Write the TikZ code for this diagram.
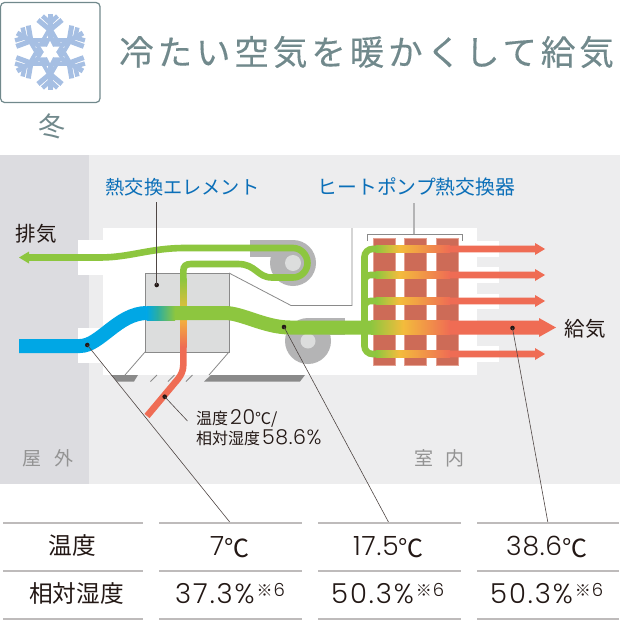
\documentclass[tikz,border=0pt]{standalone}
\usepackage{fontspec}
\setmainfont{Noto Sans CJK JP}
\newfontfamily\titlefont[LetterSpace=11.4, FakeBold=0.25]{Noto Sans CJK JP}
\newfontfamily\numfont[LetterSpace=3]{Poppins Light}
\newfontfamily\widenumfont[LetterSpace=7]{Poppins Light}
\usetikzlibrary{arrows.meta, positioning, calc}
\definecolor{titlegray}{RGB}{113, 137, 140}
\definecolor{snowblue}{RGB}{166, 191, 227}
\definecolor{wallgray}{RGB}{220, 220, 224}
\definecolor{roomgray}{RGB}{237, 237, 238}
\definecolor{boxgray}{RGB}{220, 221, 221}
\definecolor{edgegray}{RGB}{138, 138, 138}
\definecolor{fangray}{RGB}{180, 180, 181}
\definecolor{airgreen}{RGB}{141, 198, 63}
\definecolor{airblue}{RGB}{0, 167, 229}
\definecolor{airteal}{RGB}{44, 174, 160}
\definecolor{airyellow}{RGB}{243, 188, 60}
\definecolor{airred}{RGB}{239, 108, 84}
\definecolor{coilred}{RGB}{205, 107, 87}
\definecolor{coiledge}{RGB}{228, 160, 145}
\definecolor{labelblue}{RGB}{11, 111, 184}
\definecolor{inkdark}{RGB}{35, 24, 21}
\definecolor{rulegray}{RGB}{190, 187, 187}
\newcommand{\jpsize}[1]{\fontsize{#1}{#1}\selectfont}
\newcommand{\bignum}[1]{{\numfont\jpsize{26.5}#1}}
\newcommand{\pctnum}[1]{{\widenumfont\jpsize{27.5}#1}}
\newcommand{\smallnum}[1]{\hspace{2pt}{\numfont\jpsize{20.5}#1}}
\newcommand{\tempmark}{\raisebox{-1.5pt}{\jpsize{25}℃}}
\newcommand{\notemark}{\hspace{2pt}\raisebox{7pt}{\jpsize{16}※\hspace{1pt}{\numfont\jpsize{18}6}}}
\tikzset{
  leader/.style={draw=inkdark!80, line width=0.6pt},
  dotmark/.style={circle, fill=inkdark, inner sep=0pt, minimum size=4.6pt},
  rowrule/.style={draw=rulegray, line width=2pt},
  celltext/.style={text=inkdark, font=\jpsize{22}, inner sep=0pt, anchor=west},
  headtext/.style={text=inkdark, font=\jpsize{23.7}, inner sep=0pt},
  partlabel/.style={text=labelblue, inner sep=0pt, anchor=west},
  airlabel/.style={text=inkdark, font=\jpsize{20.5}, inner sep=0pt},
  placelabel/.style={text=gray!85, font=\jpsize{19}, inner sep=0pt},
  snowline/.style={draw=snowblue, line width=5pt},
  floorbar/.style={fill=edgegray},
  fanbody/.style={fill=fangray},
  faneye/.style={fill=boxgray},
  flowbig/.style={line width=14pt},
  flowthin/.style={line width=6.6pt}
}
\begin{document}
\begin{tikzpicture}[x=1pt, y=-1pt]
  \useasboundingbox (0, 0) rectangle (620, 621);

  % 背景
  \fill[roomgray] (89, 155) rectangle (620, 484);
  \fill[wallgray] (0, 155) rectangle (89, 484);
  \fill[white] (103, 228) rectangle (477, 375);
  \fill[white] (78, 240) rectangle (104, 275);
  \fill[white] (78, 328) rectangle (104, 363);
  \foreach \ya/\yb in {241/257, 267/283, 294/309, 346/362} {
    \fill[white] (476, \ya) rectangle (499, \yb);
  }

  % アイコン
  \draw[titlegray, line width=1.2pt, rounded corners=4pt] (0.6, 2.5) rectangle (100, 102.5);
  \begin{scope}[shift={(50, 52)}]
    \foreach \a in {30, 90, 150, 210, 270, 330} {
      \begin{scope}[rotate=\a]
        \draw[snowline] (13, 0) -- (38, 0);
        \draw[snowline] (22, 0) -- (32, 12);
        \draw[snowline] (22, 0) -- (32, -12);
        \draw[snowline, line width=4.4pt] (29, 0) -- (36, 7.5);
        \draw[snowline, line width=4.4pt] (29, 0) -- (36, -7.5);
      \end{scope}
    }
    \draw[snowline, line width=3.8pt] (90:24) -- (210:24) -- (330:24) -- cycle;
    \draw[snowline, line width=3.8pt] (30:24) -- (150:24) -- (270:24) -- cycle;
    \fill[snowblue] (0:15) -- (60:15) -- (120:15) -- (180:15) -- (240:15) -- (300:15) -- cycle;
    \fill[white] (90:11) -- (60:6) -- (30:11) -- (0:6) -- (-30:11) -- (-60:6) -- (-90:11)
      -- (-120:6) -- (-150:11) -- (180:6) -- (150:11) -- (120:6) -- cycle;
  \end{scope}
  \node[text=titlegray, font=\jpsize{27}, inner sep=0pt] (season) at (51.5, 126) {冬};
  \node[text=titlegray, font=\titlefont\jpsize{34.5}, inner sep=0pt, anchor=west] (title) at (119, 52) {冷たい空気を暖かくして給気};

  % 熱交換エレメント
  \fill[boxgray, draw=edgegray, line width=0.8pt] (145, 273) rectangle (229, 352);
  \draw[edgegray, line width=0.8pt] (145, 352) -- (125, 375);
  \draw[edgegray, line width=0.8pt] (229, 352) -- (209, 375);
  \draw[edgegray, line width=0.8pt] (229, 273) -- (291, 305.5) -- (352, 305.5) -- (352, 228);

  % 床の開口
  \fill[floorbar] (111, 375) -- (138, 375) -- (134, 381.5) -- (117, 381.5) -- cycle;
  \fill[floorbar] (211, 375) -- (305, 375) -- (300, 381.5) -- (204, 381.5) -- cycle;
  \foreach \x in {157, 174.5, 192.5} {
    \draw[edgegray, line width=0.8pt] (\x, 375) -- (\x-6.5, 381.5);
  }

  % ファン
  \fill[fanbody] (250, 240) rectangle (293, 257);
  \fill[fanbody] (293, 263) circle[radius=23];
  \fill[faneye] (293, 263) circle[radius=8];
  \fill[fanbody] (308, 318) rectangle (345, 335);
  \fill[fanbody] (308, 341) circle[radius=23];
  \fill[faneye] (308, 341) circle[radius=7.5];

  % ヒートポンプ熱交換器
  \foreach \x in {373, 404, 436} {
    \fill[coilred, draw=coiledge, line width=0.7pt] (\x, 238) rectangle (\x+22, 365);
  }
  \draw[edgegray, line width=0.9pt] (367, 241) -- (367, 234) -- (462, 234) -- (462, 241);
  \draw[fangray, line width=1.5pt] (414, 203) -- (414, 234);

  % 還気: 暖気からの折り返し
  \shade[top color=airgreen, bottom color=airyellow] (180, 278.8) rectangle (186.6, 315);
  \shade[top color=airyellow, bottom color=airred] (180, 314.8) rectangle (186.6, 347);
  \draw[airred, flowthin] (183.3, 346.8) -- (183.3, 365) .. controls (183.3, 371) and (181, 375) .. (178, 379) -- (147, 416);
  \fill[airgreen] (19, 257.5) -- (29, 251.5) -- (29, 254.2) -- (29, 260.8) -- (29, 263.5) -- cycle;
  \draw[airgreen, flowthin] (28, 257.5) -- (100, 257.5) .. controls (130, 257.5) and (150, 248) .. (185, 248)
    -- (293, 248) .. controls (301, 248) and (307.5, 255) .. (307.5, 263)
    .. controls (307.5, 271) and (301, 277.5) .. (293, 277.5) -- (272, 277.5)
    .. controls (257, 277.5) and (256, 264) .. (238, 264) -- (191, 264)
    .. controls (186, 264) and (183.3, 266) .. (183.3, 271) -- (183.3, 279);

  % 給気の流れ
  \draw[airblue, flowbig] (19, 346) -- (80, 346) .. controls (100, 346) and (118, 313) .. (147, 313);
  \shade[left color=airblue, right color=airteal] (146.5, 306) rectangle (158, 320);
  \shade[left color=airteal, right color=airgreen] (157.8, 306) rectangle (175, 320);
  \draw[airgreen, flowbig] (174.8, 313) -- (225, 313) .. controls (242, 313) and (265, 327.5) .. (290, 327.5) -- (371, 327.5);

  % ヒートポンプ内の分岐
  \draw[airgreen, flowthin, rounded corners=8pt] (376, 249) -- (364.5, 249) -- (364.5, 354) -- (376, 354);
  \draw[airgreen, flowthin, rounded corners=6pt] (376, 275) -- (364.5, 275) -- (364.5, 288);
  \draw[airgreen, flowthin, rounded corners=6pt] (376, 301) -- (364.5, 301) -- (364.5, 314);
  \foreach \y in {249, 275, 301, 354} {
    \shade[left color=airgreen, right color=airyellow] (375.8, \y-3.3) rectangle (399, \y+3.3);
    \shade[left color=airyellow, right color=airred] (398.8, \y-3.3) rectangle (450, \y+3.3);
    \fill[airred] (449.8, \y-3.3) -- (535, \y-3.3) -- (535, \y-6) -- (545, \y) -- (535, \y+6) -- (535, \y+3.3) -- (449.8, \y+3.3) -- cycle;
  }
  \shade[left color=airgreen, right color=airyellow] (370.8, 320.5) rectangle (403, 334.5);
  \shade[left color=airyellow, right color=airred] (402.8, 320.5) rectangle (450, 334.5);
  \fill[airred] (449.8, 320.5) -- (539, 320.5) -- (539, 318) -- (556, 327.5) -- (539, 337) -- (539, 334.5) -- (449.8, 334.5) -- cycle;

  % 引出線
  \coordinate (tabA) at (230.5, 523);
  \coordinate (tabB) at (389, 523);
  \coordinate (tabC) at (548, 523);
  \coordinate (tagOut) at (187.5, 421);
  \coordinate (tagEl) at (156.7, 202);
  \node[dotmark] (dotA) at (87.3, 345) {};
  \node[dotmark] (dotB) at (284, 327) {};
  \node[dotmark] (dotC) at (512.5, 328) {};
  \node[dotmark] (dotD) at (156.7, 285) {};
  \node[dotmark] (dotE) at (164.7, 396.7) {};
  \draw[leader] (dotA.center) -- (tabA);
  \draw[leader] (dotB.center) -- (tabB);
  \draw[leader] (dotC.center) -- (tabC);
  \draw[leader] (dotD.center) -- (tagEl);
  \draw[leader] (dotE.center) -- (tagOut);

  % ラベル
  \node[partlabel, font=\jpsize{19.2}] (element) at (105.5, 187) {熱交換エレメント};
  \node[partlabel, font=\jpsize{19.8}] (heatpump) at (317.5, 187) {ヒートポンプ熱交換器};
  \node[airlabel] (exhaust) at (36.5, 233.5) {排気};
  \node[airlabel] (supply) at (585, 328.5) {給気};
  \node[text=inkdark, font=\jpsize{16}, inner sep=0pt, anchor=west] (outA) at (196, 418) {温度\smallnum{20}℃/};
  \node[text=inkdark, font=\jpsize{16}, inner sep=0pt, anchor=west] (outB) at (196, 438) {相対湿度\smallnum{58.6\%}};
  \node[placelabel] (outdoor) at (48, 458) {屋\hspace{0.65em}外};
  \node[placelabel] (indoor) at (439.5, 458) {室\hspace{0.6em}内};

  % 表
  \foreach \ya/\yb in {3/143, 159/302, 318/461, 477/619} {
    \foreach \y in {523, 571, 619} {
      \draw[rowrule] (\ya, \y) -- (\yb, \y);
    }
  }
  \node[headtext] (rowtemp) at (72.5, 546) {温度};
  \node[headtext] (rowhum) at (76.5, 594) {相対湿度};
  \node[celltext] (tempA) at (210, 547) {\bignum{7}\tempmark};
  \node[celltext] (tempB) at (353, 547) {\bignum{17.5}\tempmark};
  \node[celltext] (tempC) at (506, 547) {\bignum{38.6}\tempmark};
  \node[celltext] (humA) at (175, 594) {\pctnum{37.3\%}\notemark};
  \node[celltext] (humB) at (331, 594) {\pctnum{50.3\%}\notemark};
  \node[celltext] (humC) at (490, 594) {\pctnum{50.3\%}\notemark};
\end{tikzpicture}
\end{document}
